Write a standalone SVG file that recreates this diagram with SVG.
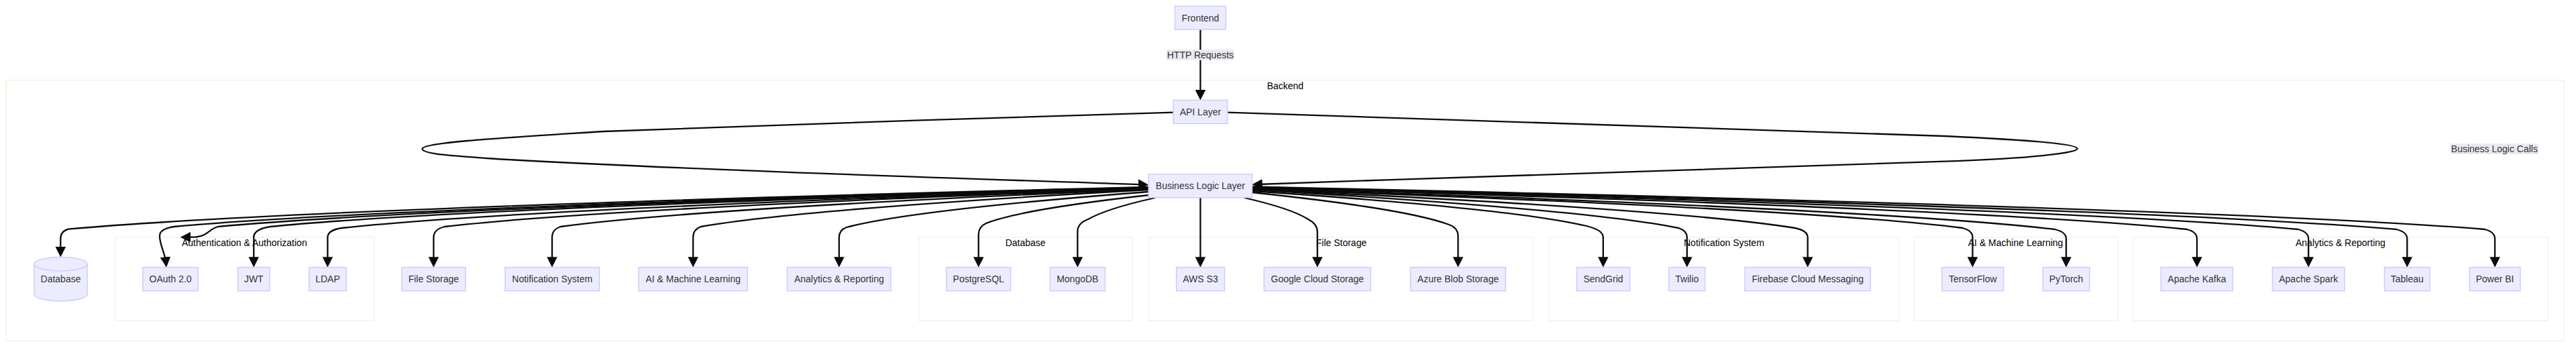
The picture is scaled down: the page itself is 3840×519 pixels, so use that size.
<svg xmlns="http://www.w3.org/2000/svg" width="3840" height="519" viewBox="0 0 3840 519">
<style>
text{font-family:"Liberation Sans",Arial,sans-serif;font-size:14px;text-anchor:middle;dominant-baseline:central}
.c{fill:#fff;stroke:#f3f4df;stroke-width:1.5}
.ct{fill:#000}
.n rect,.n path{fill:#ececff;stroke:#ccccff;stroke-width:1.5}
.n text,.l text{fill:#333}
.l rect{fill:#e9e9f0}
#edges path{fill:none;stroke:#0a0a0a;stroke-width:2.3;marker-end:url(#a)}
</style>
<defs><marker id="a" viewBox="0 0 10 10" refX="5" refY="5" markerUnits="userSpaceOnUse" markerWidth="15.5" markerHeight="15.5" orient="auto"><path d="M0,0L10,5L0,10z" fill="#0a0a0a"/></marker></defs>
<rect width="3840" height="519" fill="#fff"/>
<g id="clusters">
<g id="cluster-backend"><rect class="c" x="9.2" y="119.7" width="3813.3" height="388.6"/><text class="ct" x="1915.9" y="128">Backend</text></g>
<g id="cluster-auth"><rect class="c" x="171.4" y="353.7" width="386.3" height="124.6"/><text class="ct" x="364.3" y="362">Authentication &amp; Authorization</text></g>
<g id="cluster-database"><rect class="c" x="1369.4" y="353.7" width="318.9" height="124.6"/><text class="ct" x="1528.6" y="362">Database</text></g>
<g id="cluster-file"><rect class="c" x="1712.2" y="353.7" width="573.5" height="124.6"/><text class="ct" x="1999.5" y="362">File Storage</text></g>
<g id="cluster-notif"><rect class="c" x="2309.2" y="353.7" width="521.4" height="124.6"/><text class="ct" x="2569.9" y="362">Notification System</text></g>
<g id="cluster-ai"><rect class="c" x="2853.6" y="353.7" width="303" height="124.6"/><text class="ct" x="3004.6" y="362">AI &amp; Machine Learning</text></g>
<g id="cluster-analytics"><rect class="c" x="3180.2" y="353.7" width="618.2" height="124.6"/><text class="ct" x="3488.9" y="362">Analytics &amp; Reporting</text></g>
</g>
<g id="edges">
<path d="M1789.4,44V141.8"/>
<path d="M1749,167.7C1500,174 1100,189 900,196C760,205 629.5,212 629.5,222C629.5,230 680,233 740,237C1000,252 1400,265 1704.5,275.3"/>
<path d="M1829.8,167.7C2100,176 2500,190 2900,203C3030,209 3096.7,215 3096.7,221.7C3096.7,228 3030,236 2900,240.7C2500,252 2200,264 1874,275"/>
<path d="M1712,279Q456,310 102,341.7Q90.3,345 90.3,356V375.8"/>
<path d="M1712,279.5Q576,309.5 260,338Q238,341 238,352C238,365 246,378 247.3,391"/>
<path d="M1712,280Q636,309.5 325,338C312,341 310,352 292,353.5L276.5,353.7"/>
<path d="M1712,280.5Q691,310 403,338Q378,342 378.3,354V391"/>
<path d="M1712,281Q774,311.5 510,340Q488.4,343 488.4,354V391"/>
<path d="M1712,281.5Q894,311 663,338Q646.4,342 646.4,354V391"/>
<path d="M1712,282Q1029,311.5 836,338Q823,342 823,354V391"/>
<path d="M1712,283Q1192,312 1045,338Q1033.2,342 1033.2,354V391"/>
<path d="M1712,286Q1361,313 1262,339Q1250.8,343 1250.8,354V391"/>
<path d="M1712,291Q1523,312 1470,333Q1458.7,338 1458.7,350V391"/>
<path d="M1722,295Q1650,311 1622,327Q1606.3,333 1606.3,345V391"/>
<path d="M1789.4,294.7V391"/>
<path d="M1855,295Q1925,311 1950,327Q1963.8,334 1963.8,346V391"/>
<path d="M1866.5,287Q2095,311 2160,335Q2173.5,340 2173.5,352V391"/>
<path d="M1866.5,285Q2255,311 2365,337Q2389.8,343 2389.8,354V391"/>
<path d="M1866.5,283Q2362,312 2502,340Q2514.8,344 2514.8,354V391"/>
<path d="M1866.5,282.5Q2497.5,311.5 2675.5,340Q2694.7,344 2694.7,354V391"/>
<path d="M1866.5,282Q2692.5,311 2925.5,340Q2940.5,344 2940.5,354V391"/>
<path d="M1866.5,281Q2800,311.5 3063,342Q3080,346 3080,356V391"/>
<path d="M1866.5,280Q2953.5,311 3260,342Q3275,346 3275,356V391"/>
<path d="M1866.5,279.5Q3082.6,311 3425.6,342Q3441.2,346 3441.2,356V391"/>
<path d="M1866.5,279Q3197,310.5 3572,342Q3588.3,346 3588.3,356V391"/>
<path d="M1866.5,278.5Q3300,310 3704,342Q3719.1,346 3719.1,356V391"/>
</g>
<g id="edge-labels">
<g class="l"><rect x="1739" y="74" width="100.6" height="15.7"/><text x="1789.4" y="82">HTTP Requests</text></g>
<g class="l"><rect x="3653" y="214.3" width="130.8" height="15.7"/><text x="3718.4" y="222">Business Logic Calls</text></g>
</g>
<g id="nodes">
<g id="frontend" class="n"><rect x="1751.4" y="9.3" width="75.9" height="34.7"/><text x="1789.4" y="26.7">Frontend</text></g>
<g id="api" class="n"><rect x="1749" y="149.3" width="80.8" height="35"/><text x="1789.4" y="166.8">API Layer</text></g>
<g id="bll" class="n"><rect x="1712.2" y="259.7" width="154.3" height="35"/><text x="1789.4" y="277.2">Business Logic Layer</text></g>
<g id="db" class="n"><path d="M51,393.7A39.5,10.3 0 0 1 130,393.7V438.7A39.5,10.3 0 0 1 51,438.7Z"/><path d="M51,393.7A39.5,10.3 0 0 0 130,393.7" style="fill:none"/><text x="90.5" y="416">Database</text></g>
<g id="oauth" class="n"><rect x="212.8" y="398.7" width="82.6" height="35"/><text x="254.1" y="416.2">OAuth 2.0</text></g>
<g id="jwt" class="n"><rect x="354.6" y="398.7" width="47.4" height="35"/><text x="378.3" y="416.2">JWT</text></g>
<g id="ldap" class="n"><rect x="460.7" y="398.7" width="55.6" height="35"/><text x="488.5" y="416.2">LDAP</text></g>
<g id="file" class="n"><rect x="599" y="398.7" width="94.9" height="35"/><text x="646.4" y="416.2">File Storage</text></g>
<g id="notif" class="n"><rect x="753" y="398.7" width="140.4" height="35"/><text x="823.2" y="416.2">Notification System</text></g>
<g id="ai" class="n"><rect x="952" y="398.7" width="162.3" height="35"/><text x="1033.2" y="416.2">AI &amp; Machine Learning</text></g>
<g id="analytics" class="n"><rect x="1173.5" y="398.7" width="154.5" height="35"/><text x="1250.8" y="416.2">Analytics &amp; Reporting</text></g>
<g id="postgres" class="n"><rect x="1410.7" y="398.7" width="95.9" height="35"/><text x="1458.7" y="416.2">PostgreSQL</text></g>
<g id="mongo" class="n"><rect x="1565.3" y="398.7" width="82.1" height="35"/><text x="1606.3" y="416.2">MongoDB</text></g>
<g id="s3" class="n"><rect x="1753.6" y="398.7" width="71.9" height="35"/><text x="1789.5" y="416.2">AWS S3</text></g>
<g id="gcs" class="n"><rect x="1884.2" y="398.7" width="159.2" height="35"/><text x="1963.8" y="416.2">Google Cloud Storage</text></g>
<g id="azure" class="n"><rect x="2102.6" y="398.7" width="141.8" height="35"/><text x="2173.5" y="416.2">Azure Blob Storage</text></g>
<g id="sendgrid" class="n"><rect x="2350.5" y="398.7" width="79.1" height="35"/><text x="2390" y="416.2">SendGrid</text></g>
<g id="twilio" class="n"><rect x="2487.8" y="398.7" width="54" height="35"/><text x="2514.8" y="416.2">Twilio</text></g>
<g id="fcm" class="n"><rect x="2601" y="398.7" width="187.3" height="35"/><text x="2694.7" y="416.2">Firebase Cloud Messaging</text></g>
<g id="tensorflow" class="n"><rect x="2894.9" y="398.7" width="91.8" height="35"/><text x="2940.8" y="416.2">TensorFlow</text></g>
<g id="pytorch" class="n"><rect x="3045.4" y="398.7" width="69.4" height="35"/><text x="3080.1" y="416.2">PyTorch</text></g>
<g id="kafka" class="n"><rect x="3221.3" y="398.7" width="107.1" height="35"/><text x="3274.9" y="416.2">Apache Kafka</text></g>
<g id="spark" class="n"><rect x="3387.4" y="398.7" width="107.6" height="35"/><text x="3441.2" y="416.2">Apache Spark</text></g>
<g id="tableau" class="n"><rect x="3554.5" y="398.7" width="67.5" height="35"/><text x="3588.3" y="416.2">Tableau</text></g>
<g id="powerbi" class="n"><rect x="3681.4" y="398.7" width="75.5" height="35"/><text x="3719.1" y="416.2">Power BI</text></g>
</g>
</svg>
